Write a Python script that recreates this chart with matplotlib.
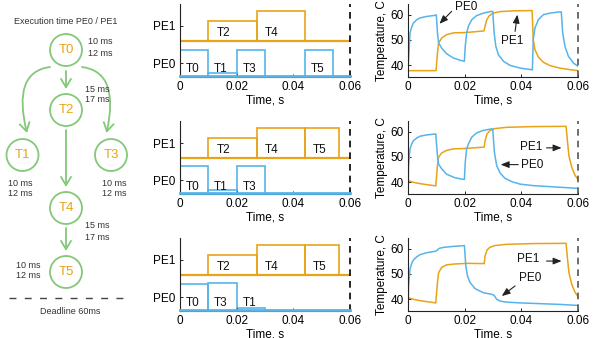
import numpy as np
import matplotlib.pyplot as plt
from matplotlib.patches import Circle, FancyArrowPatch
from matplotlib.path import Path

plt.rcParams['font.family'] = ['Liberation Sans', 'DejaVu Sans']

BLUE = '#56B4E9'
ORANGE = '#E8A317'
GREEN = '#84C87A'
TXT = '#333333'

# ---- task graph ----
node_names = ['T0', 'T1', 'T2', 'T3', 'T4', 'T5']
node_x = [66, 22.5, 66, 111, 66, 66]
node_y = [50, 155, 110, 155, 208, 272]
exec_pe0 = ['10 ms', '10 ms', '15 ms', '10 ms', '15 ms', '10 ms']
exec_pe1 = ['12 ms', '12 ms', '17 ms', '12 ms', '17 ms', '12 ms']
exec_lbl_x = [88, 8, 85, 102, 85, 16]
exec_lbl_y = [42, 183, 89, 183, 226, 265]

# ---- schedules: (task, start [s], end [s], power) ----
sched_pe0 = [
    [('T0', 0.0, 0.010, 27), ('T1', 0.010, 0.020, 4.5), ('T3', 0.020, 0.030, 27), ('T5', 0.044, 0.054, 27)],
    [('T0', 0.0, 0.010, 28), ('T1', 0.010, 0.020, 4.5), ('T3', 0.020, 0.030, 28)],
    [('T0', 0.0, 0.010, 27), ('T3', 0.010, 0.020, 28.5), ('T1', 0.020, 0.030, 3.5)],
]
sched_pe1 = [
    [('T2', 0.010, 0.027, 19.5), ('T4', 0.027, 0.044, 29.5)],
    [('T2', 0.010, 0.027, 19.5), ('T4', 0.027, 0.044, 29.5), ('T5', 0.044, 0.056, 29.5)],
    [('T2', 0.010, 0.027, 19.5), ('T4', 0.027, 0.044, 29.5), ('T5', 0.044, 0.056, 29.5)],
]

# ---- temperatures ----
t_pe0_1 = [0, 0.0004, 0.0007, 0.0013, 0.0019, 0.0031, 0.0042, 0.0066, 0.0095, 0.0100, 0.0104, 0.0108,
           0.0119, 0.0136, 0.0160, 0.0184, 0.0199, 0.0202, 0.0207, 0.0213, 0.0225, 0.0242, 0.0266,
           0.0290, 0.0299, 0.0304, 0.0310, 0.0319, 0.0337, 0.0360, 0.0396, 0.0436, 0.0439, 0.0442,
           0.0448, 0.0460, 0.0478, 0.0501, 0.0536, 0.0541, 0.0546, 0.0554, 0.0566, 0.0584, 0.0600]
T_pe0_1 = [38.0, 46.2, 52.8, 55.1, 56.7, 58.0, 58.7, 59.3, 59.7, 59.9, 52.8, 48.8,
           46.8, 44.6, 42.9, 42.0, 41.6, 47.5, 52.8, 55.4, 58.0, 59.6, 60.6,
           61.2, 61.3, 52.8, 47.5, 44.2, 41.6, 40.0, 38.9, 38.3, 38.2, 50.1,
           54.7, 58.0, 60.0, 60.6, 61.1, 61.1, 52.8, 47.5, 43.6, 40.9, 39.6]
t_pe1_1 = [0, 0.0099, 0.0104, 0.0108, 0.0119, 0.0136, 0.0160, 0.0195, 0.0231, 0.0268, 0.0272, 0.0278,
           0.0287, 0.0301, 0.0325, 0.0372, 0.0438, 0.0442, 0.0448, 0.0460, 0.0478, 0.0501, 0.0536,
           0.0572, 0.0600]
T_pe1_1 = [37.9, 37.9, 44.9, 48.8, 50.8, 52.1, 52.8, 52.9, 53.2, 53.6, 55.4, 58.0,
           59.6, 60.6, 61.2, 61.5, 61.6, 50.1, 46.2, 43.3, 41.2, 39.9, 38.9,
           38.3, 37.9]

t_pe0_2 = [0, 0.0002, 0.0007, 0.0013, 0.0019, 0.0031, 0.0042, 0.0066, 0.0098, 0.0104, 0.0108, 0.0119,
           0.0136, 0.0166, 0.0199, 0.0202, 0.0207, 0.0213, 0.0225, 0.0242, 0.0266, 0.0295, 0.0299,
           0.0305, 0.0313, 0.0325, 0.0342, 0.0366, 0.0395, 0.0442, 0.0501, 0.0560, 0.0600]
T_pe0_2 = [36.7, 46.6, 53.2, 55.1, 56.4, 57.5, 58.2, 58.7, 59.1, 50.5, 47.2, 45.3,
           43.2, 41.8, 41.1, 47.9, 53.2, 55.1, 57.8, 59.5, 60.5, 61.1, 61.1,
           51.8, 46.6, 43.7, 41.6, 40.3, 39.3, 38.7, 38.3, 37.9, 37.6]
t_pe1_2 = [0, 0.0019, 0.0042, 0.0066, 0.0098, 0.0104, 0.0108, 0.0119, 0.0136, 0.0160, 0.0207, 0.0269,
           0.0272, 0.0279, 0.0289, 0.0306, 0.0347, 0.0442, 0.0558, 0.0562, 0.0568, 0.0578, 0.0589,
           0.0600]
T_pe1_2 = [40.7, 40.0, 39.5, 39.1, 38.6, 46.6, 49.9, 51.6, 52.6, 53.2, 53.4, 53.9,
           56.4, 59.1, 60.4, 61.2, 61.7, 62.0, 62.1, 57.1, 50.5, 45.9, 42.9,
           41.1]

t_pe0_3 = [0, 0.0002, 0.0007, 0.0013, 0.0019, 0.0031, 0.0042, 0.0066, 0.0098, 0.0104, 0.0110, 0.0125,
           0.0160, 0.0199, 0.0204, 0.0210, 0.0219, 0.0237, 0.0266, 0.0295, 0.0304, 0.0313, 0.0325,
           0.0348, 0.0395, 0.0466, 0.0537, 0.0600]
T_pe0_3 = [36.7, 45.3, 51.8, 54.2, 55.5, 56.8, 57.6, 58.4, 59.0, 59.5, 60.1, 60.5,
           60.9, 61.2, 53.2, 49.2, 46.6, 44.2, 42.6, 42.0, 41.6, 40.0, 39.3,
           38.9, 38.6, 38.3, 38.0, 37.6]
t_pe1_3 = [0, 0.0019, 0.0042, 0.0066, 0.0098, 0.0104, 0.0108, 0.0119, 0.0136, 0.0160, 0.0207, 0.0269,
           0.0272, 0.0279, 0.0289, 0.0306, 0.0347, 0.0442, 0.0558, 0.0562, 0.0568, 0.0578, 0.0589,
           0.0600]
T_pe1_3 = [40.7, 40.0, 39.5, 39.1, 38.6, 46.6, 50.5, 52.6, 53.6, 53.9, 54.2, 54.1,
           57.1, 59.5, 60.5, 61.2, 61.7, 62.0, 62.1, 57.1, 50.5, 45.9, 42.9,
           41.1]

temps = [(t_pe0_1, T_pe0_1, t_pe1_1, T_pe1_1),
         (t_pe0_2, T_pe0_2, t_pe1_2, T_pe1_2),
         (t_pe0_3, T_pe0_3, t_pe1_3, T_pe1_3)]

# annotation: (label, text x, text y, arrow tail, arrow head)
annots = [
    [('PE0', 0.0207, 63.0, (0.0154, 61.3), (0.0111, 56.4)),
     ('PE1', 0.0369, 49.5, (0.0378, 53.4), (0.0386, 60.0))],
    [('PE1', 0.0436, 53.8, (0.0489, 53.6), (0.0542, 53.6)),
     ('PE0', 0.0440, 47.0, (0.0389, 47.0), (0.0327, 47.0))],
    [('PE1', 0.0425, 56.1, (0.0489, 55.1), (0.0542, 55.1)),
     ('PE0', 0.0431, 48.3, (0.0378, 45.3), (0.0331, 41.3))],
]

xticks = [0, 0.02, 0.04, 0.06]
xticklabels = ['0', '0.02', '0.04', '0.06']
deadline = 0.06

W, H = 601, 338
fig = plt.figure(figsize=(W / 100, H / 100), dpi=100)

# ================= task graph =================
ax0 = fig.add_axes([0, 0, 150 / W, 1])
ax0.set_xlim(0, 150)
ax0.set_ylim(H, 0)
ax0.axis('off')

ax0.text(66, 21, 'Execution time PE0 / PE1', ha='center', va='center', fontsize=6.5, color=TXT)
for i, name in enumerate(node_names):
    ax0.add_patch(Circle((node_x[i], node_y[i]), 16, fc='white', ec=GREEN, lw=1.3))
    ax0.text(node_x[i], node_y[i], name, ha='center', va='center', fontsize=9.5, color=ORANGE)
    ax0.text(exec_lbl_x[i], exec_lbl_y[i], exec_pe0[i], ha='left', va='center', fontsize=6.5, color=TXT)
    ax0.text(exec_lbl_x[i], exec_lbl_y[i] + 11, exec_pe1[i], ha='left', va='center', fontsize=6.5, color=TXT)

astyle = '->,head_length=0.5,head_width=0.3'
edges = [(0, 2), (2, 4), (4, 5)]
for a, b in edges:
    y0 = node_y[a] + 20 if a != 0 else node_y[a] + 21
    y1 = node_y[b] - 21
    ax0.add_patch(FancyArrowPatch((node_x[a], y0), (node_x[b], y1), arrowstyle=astyle,
                                  mutation_scale=12, color=GREEN, lw=1.3, shrinkA=0, shrinkB=0))
for sgn, b in [(-1, 1), (1, 3)]:
    p0 = (node_x[0] + sgn * 16, node_y[0] + 17)
    pc = (node_x[0] + sgn * 54, node_y[0] + 22)
    p1 = (node_x[b] - sgn * 4.5, node_y[b] - 22)
    path = Path([p0, pc, p1], [Path.MOVETO, Path.CURVE3, Path.CURVE3])
    ax0.add_patch(FancyArrowPatch(path=path, arrowstyle=astyle, mutation_scale=12,
                                  color=GREEN, lw=1.3))

ax0.plot([9, 124], [298, 298], color='#444444', lw=1.0, ls=(0, (5, 6)))
ax0.text(70, 312, 'Deadline 60ms', ha='center', va='center', fontsize=6.5, color=TXT)

# ================= axes layout =================
rows_top = [4, 121, 238]
ax_h = 73
pe1_base = 36.5
pe1_tick, pe0_tick = 51, 14


def style_axes(ax):
    for s in ['top', 'right']:
        ax.spines[s].set_visible(False)
    for s in ['left', 'bottom']:
        ax.spines[s].set_linewidth(0.8)
        ax.spines[s].set_color('#222222')
    ax.tick_params(direction='in', length=2.5, width=0.6, labelsize=8.5, pad=3)
    ax.set_xlim(0, 0.06)
    ax.set_xticks(xticks)
    ax.set_xticklabels(xticklabels)
    ax.set_xlabel('Time, s', fontsize=8.5, labelpad=1)


for r in range(3):
    bottom = 1 - (rows_top[r] + ax_h) / H

    # ---- schedule (gantt) ----
    ag = fig.add_axes([180 / W, bottom, 170 / W, ax_h / H])
    style_axes(ag)
    ag.set_ylim(0, ax_h)
    ag.set_yticks([pe0_tick, pe1_tick])
    ag.set_yticklabels(['PE0', 'PE1'])
    for name, s, e, p in sched_pe0[r]:
        ag.bar(s, p, width=e - s, bottom=0, align='edge', fill=False, edgecolor=BLUE, lw=1.2)
        ag.text(s + 0.002, 7.5, name, ha='left', va='center', fontsize=8.5, color='#111111')
    for name, s, e, p in sched_pe1[r]:
        ag.bar(s, p, width=e - s, bottom=pe1_base, align='edge', fill=False, edgecolor=ORANGE, lw=1.2)
        ag.text(s + 0.003, pe1_base + 8, name, ha='left', va='center', fontsize=8.5, color='#111111')
    ag.plot([0, 0.06], [pe1_base, pe1_base], color=ORANGE, lw=1.6)
    ag.plot([0, 0.06], [0.6, 0.6], color=BLUE, lw=2.0, clip_on=False, zorder=5)
    ag.axvline(deadline, color='k', lw=1.2, ls=(0, (4, 3)), clip_on=False)

    # ---- temperatures ----
    at = fig.add_axes([408 / W, bottom, 170 / W, ax_h / H])
    style_axes(at)
    at.set_ylim(35.4, 64.2)
    at.set_yticks([40, 50, 60])
    at.set_ylabel('Temperature, C', fontsize=8.5, labelpad=2)
    t0, y0, t1, y1 = temps[r]
    at.plot(t1, y1, color=ORANGE, lw=1.1)
    at.plot(t0, y0, color=BLUE, lw=1.1)
    at.axvline(deadline, color='#555555', lw=1.2, ls=(0, (4, 3)), clip_on=False)
    for lbl, tx, ty, tail, head in annots[r]:
        at.text(tx, ty, lbl, ha='center', va='center', fontsize=8.5, color='#111111')
        at.annotate('', xy=head, xytext=tail,
                    arrowprops=dict(arrowstyle='-|>,head_length=0.5,head_width=0.2',
                                    color='#222222', lw=0.8, shrinkA=0, shrinkB=0))

fig.savefig('out.png', dpi=100)
